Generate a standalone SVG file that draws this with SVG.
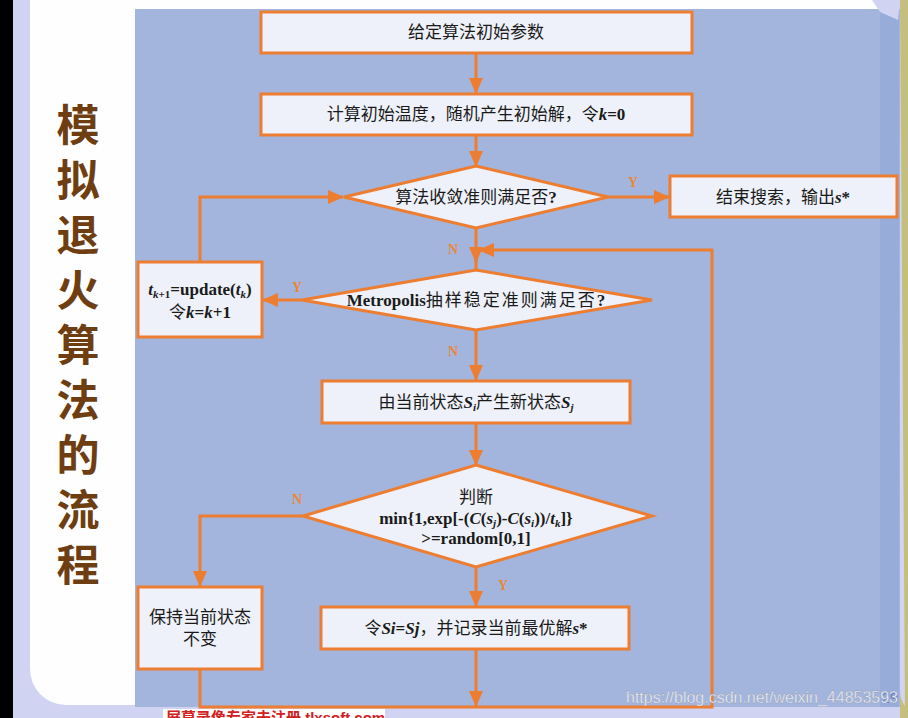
<svg xmlns="http://www.w3.org/2000/svg" width="908" height="718" viewBox="0 0 908 718">
<defs>
<marker id="ah" viewBox="0 0 16 14" refX="15" refY="7" markerWidth="16" markerHeight="14" orient="auto" markerUnits="userSpaceOnUse"><path d="M0,0 L16,7 L0,14 z" fill="#ed7d31"/></marker>
<style>
.box{fill:#eef1f9;stroke:#ed7d31;stroke-width:3}
.con{fill:none;stroke:#ed7d31;stroke-width:3}
.t{font-family:"Liberation Serif","Noto Sans CJK SC",serif;font-size:17px;fill:#1a1a1a;text-anchor:middle}
.b{font-weight:bold}
.lbl{font-family:"Liberation Serif",serif;font-size:14px;font-weight:bold;fill:#e8883a;text-anchor:middle}
.title{font-family:"Noto Sans CJK SC",sans-serif;font-size:43px;font-weight:bold;fill:#6e3e12}
</style>
</defs>
<rect x="0" y="0" width="908" height="718" fill="#d0d3f2"/>
<rect x="0" y="0" width="13" height="718" fill="#000"/>
<rect x="30" y="-40" width="860" height="745" rx="36" fill="#fefefe"/>
<rect x="135" y="9" width="765" height="698" fill="#a3b5dc"/>
<rect x="880" y="9" width="19" height="698" fill="#98acd9"/>
<path d="M900,0 H908 V718 H900 V690 Q900,700 905,706 Z" fill="#c5bf7e"/>
<polygon points="872,0 900,0 898,20 880,12" fill="#d0d3f2"/>

<g id="title">
<text class="title" x="78" y="103" writing-mode="tb" letter-spacing="12">模拟退火算法的流程</text>
</g>

<g id="connectors">
<path class="con" d="M476,53 V93" marker-end="url(#ah)"/>
<path class="con" d="M476,135 V166" marker-end="url(#ah)"/>
<path class="con" d="M608,197 H669" marker-end="url(#ah)"/>
<path class="con" d="M476,228 V262" marker-end="url(#ah)"/>
<path class="con" d="M476,255 V270"/>
<path class="con" d="M200,669 V707 H712 V250 H479" marker-end="url(#ah)"/>
<path class="con" d="M302,300 H263" marker-end="url(#ah)"/>
<path class="con" d="M200,262 V197 H343" marker-end="url(#ah)"/>
<path class="con" d="M476,330 V380" marker-end="url(#ah)"/>
<path class="con" d="M476,423 V465" marker-end="url(#ah)"/>
<path class="con" d="M303,516 H200 V586" marker-end="url(#ah)"/>
<path class="con" d="M476,567 V606" marker-end="url(#ah)"/>
<path class="con" d="M476,649 V706" marker-end="url(#ah)"/>
<text class="lbl" x="633" y="187">Y</text>
<text class="lbl" x="453" y="254">N</text>
<text class="lbl" x="297" y="292">Y</text>
<text class="lbl" x="453" y="356">N</text>
<text class="lbl" x="297" y="504">N</text>
<text class="lbl" x="503" y="590">Y</text>
</g>

<g id="n1">
<rect class="box" x="261" y="12" width="431" height="41"/>
<text class="t" x="476" y="38">给定算法初始参数</text>
</g>
<g id="n2">
<rect class="box" x="261" y="94" width="431" height="41"/>
<text class="t" x="476" y="120">计算初始温度，随机产生初始解，令<tspan class="b" font-style="italic">k</tspan><tspan class="b">=0</tspan></text>
</g>
<g id="d1">
<polygon class="box" points="476,166 608,197 476,228 344,197"/>
<text class="t" x="476" y="203">算法收敛准则满足否<tspan class="b">?</tspan></text>
</g>
<g id="n_end">
<rect class="box" x="670" y="176" width="227" height="41"/>
<text class="t" x="783" y="203">结束搜索，输出<tspan class="b" font-style="italic">s</tspan><tspan class="b">*</tspan></text>
</g>
<g id="d2">
<polygon class="box" points="476,270 652,300 476,330 302,300"/>
<text class="t" x="476" y="306"><tspan class="b">Metropolis</tspan><tspan letter-spacing="2">抽样稳定准则满足否</tspan><tspan class="b">?</tspan></text>
</g>
<g id="n_update">
<rect class="box" x="138" y="262" width="124" height="75"/>
<text class="t b" x="200" y="295"><tspan font-style="italic">t</tspan><tspan font-size="11" dy="3" font-style="italic">k</tspan><tspan font-size="11">+1</tspan><tspan dy="-3">=update(</tspan><tspan font-style="italic">t</tspan><tspan font-size="11" dy="3" font-style="italic">k</tspan><tspan dy="-3">)</tspan></text>
<text class="t" x="200" y="318">令<tspan class="b" font-style="italic">k</tspan><tspan class="b">=</tspan><tspan class="b" font-style="italic">k</tspan><tspan class="b">+1</tspan></text>
</g>
<g id="n3">
<rect class="box" x="322" y="381" width="308" height="42"/>
<text class="t" x="476" y="408">由当前状态<tspan class="b" font-style="italic">S</tspan><tspan class="b" font-style="italic" font-size="11" dy="3">i</tspan><tspan dy="-3">产生新状态</tspan><tspan class="b" font-style="italic">S</tspan><tspan class="b" font-style="italic" font-size="11" dy="3">j</tspan></text>
</g>
<g id="d3">
<polygon class="box" points="476,465 652,516 476,567 303,516"/>
<text class="t" x="476" y="503">判断</text>
<text class="t b" x="476" y="524">min{1,exp[-(<tspan font-style="italic">C</tspan>(<tspan font-style="italic">s</tspan><tspan font-style="italic" font-size="11" dy="3">j</tspan><tspan dy="-3">)-</tspan><tspan font-style="italic">C</tspan>(<tspan font-style="italic">s</tspan><tspan font-style="italic" font-size="11" dy="3">i</tspan><tspan dy="-3">))/</tspan><tspan font-style="italic">t</tspan><tspan font-style="italic" font-size="11" dy="3">k</tspan><tspan dy="-3">]}</tspan></text>
<text class="t b" x="476" y="544">&gt;=random[0,1]</text>
</g>
<g id="n_keep">
<rect class="box" x="138" y="587" width="124" height="82"/>
<text class="t" x="200" y="623">保持当前状态</text>
<text class="t" x="200" y="645">不变</text>
</g>
<g id="n_accept">
<rect class="box" x="321" y="607" width="308" height="42"/>
<text class="t" x="476" y="634">令<tspan class="b" font-style="italic">Si</tspan><tspan class="b">=</tspan><tspan class="b" font-style="italic">Sj</tspan>，并记录当前最优解<tspan class="b" font-style="italic">s</tspan><tspan class="b">*</tspan></text>
</g>

<g id="overlay">
<text x="898" y="703" font-family="Liberation Sans,sans-serif" font-size="15" fill="#5b6fc4" text-anchor="end" opacity="0.7">29</text>
<text x="898" y="703" font-family="Liberation Sans,sans-serif" font-size="16" fill="#f2f2f2" text-anchor="end" textLength="272" lengthAdjust="spacingAndGlyphs" stroke="#8a94b0" stroke-width="0.3">https://blog.csdn.net/weixin_44853593</text>
<rect x="163" y="709" width="222" height="9" fill="#fff"/>
<text x="166" y="723" font-family="Liberation Sans,'Noto Sans CJK SC',sans-serif" font-size="15" font-weight="bold" fill="#d42020">屏幕录像专家未注册 tlxsoft.com</text>
</g>
</svg>
